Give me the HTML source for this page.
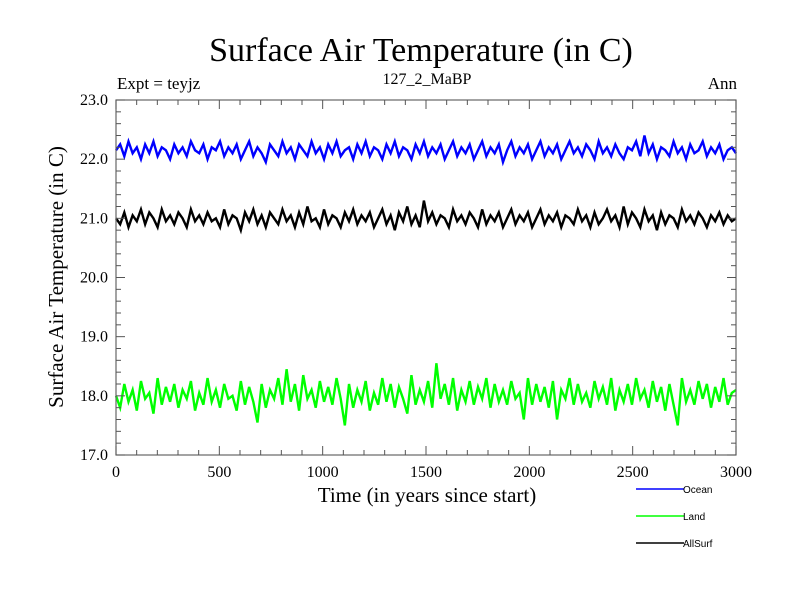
<!DOCTYPE html>
<html><head><meta charset="utf-8"><style>
html,body{margin:0;padding:0;background:#fff;}
svg{display:block;}
</style></head><body>
<svg id="chart" width="800" height="600" xmlns="http://www.w3.org/2000/svg" font-family="Liberation Serif, serif">
<text x="421" y="61" font-size="34" text-anchor="middle">Surface Air Temperature (in C)</text>
<text x="117" y="89" font-size="17">Expt = teyjz</text>
<text x="427" y="84" font-size="16" text-anchor="middle">127_2_MaBP</text>
<text x="737" y="89" font-size="17" text-anchor="end">Ann</text>
<text x="427" y="502" font-size="21" text-anchor="middle">Time (in years since start)</text>
<text transform="translate(63,277) rotate(-90)" font-size="21" text-anchor="middle">Surface Air Temperature (in C)</text>
<g id="series"></g>
<g id="axes"></g>
<g font-family="Liberation Sans, sans-serif" font-size="10">
<line x1="636" y1="489" x2="684" y2="489" stroke="#0000ff" stroke-width="1.5"/>
<text x="683" y="493">Ocean</text>
<line x1="636" y1="516" x2="684" y2="516" stroke="#00ff00" stroke-width="1.5"/>
<text x="683" y="520">Land</text>
<line x1="636" y1="543" x2="684" y2="543" stroke="#000" stroke-width="1.5"/>
<text x="683" y="547">AllSurf</text>
</g>
</svg>
<script>
const xTicks=[0,500,1000,1500,2000,2500,3000];
const yTicks=[17.0,18.0,19.0,20.0,21.0,22.0,23.0];
const land=[18.0,17.8,18.2,17.9,18.1,17.75,18.25,17.95,18.05,17.7,18.3,17.85,18.15,17.9,18.2,17.8,18.1,17.95,18.25,17.75,
18.05,17.85,18.3,17.9,18.1,17.8,18.2,17.95,18.0,17.75,18.25,17.85,18.15,17.9,17.55,18.2,17.8,18.1,17.95,18.3,
17.85,18.45,17.9,18.2,17.75,18.35,17.95,18.1,17.8,18.25,17.9,18.15,17.85,18.3,17.95,17.5,18.2,17.8,18.1,17.9,
18.25,17.75,18.05,17.85,18.3,17.9,18.2,17.8,18.15,17.95,17.7,18.35,17.85,18.1,17.9,18.25,17.8,18.55,17.95,18.2,
17.85,18.3,17.75,18.1,17.9,18.25,17.85,18.15,17.95,18.3,17.8,18.2,17.9,18.1,17.85,18.25,17.95,18.05,17.6,18.3,
17.85,18.2,17.9,18.15,17.8,18.25,17.6,18.1,17.95,18.3,17.85,18.2,17.9,18.05,17.8,18.25,17.95,18.15,17.85,18.3,
17.75,18.1,17.9,18.2,17.85,18.3,17.95,18.1,17.8,18.25,17.9,18.15,17.75,18.2,17.85,17.5,18.3,17.9,18.1,17.85,
18.25,17.95,18.2,17.8,18.15,17.9,18.3,17.85,18.05,18.1];
const ocean=[22.15,22.25,22.05,22.3,22.1,22.2,22.0,22.25,22.1,22.3,22.05,22.2,22.15,22.0,22.25,22.1,22.2,22.05,22.3,22.15,
22.1,22.25,22.0,22.2,22.15,22.3,22.05,22.2,22.1,22.25,22.0,22.15,22.3,22.05,22.2,22.1,21.95,22.25,22.15,22.05,
22.3,22.1,22.2,22.0,22.25,22.15,22.05,22.3,22.1,22.2,22.0,22.25,22.1,22.3,22.05,22.15,22.2,22.0,22.25,22.1,
22.3,22.05,22.2,22.15,22.0,22.25,22.1,22.3,22.05,22.2,22.15,22.0,22.25,22.1,22.3,22.05,22.2,22.1,22.25,22.0,
22.15,22.3,22.05,22.2,22.1,22.25,22.0,22.15,22.3,22.05,22.2,22.1,22.25,21.95,22.15,22.3,22.05,22.2,22.1,22.25,
22.0,22.15,22.3,22.05,22.2,22.1,22.25,22.0,22.15,22.3,22.1,22.2,22.05,22.25,22.15,22.0,22.3,22.1,22.2,22.05,
22.25,22.1,22.0,22.2,22.15,22.3,22.05,22.4,22.1,22.25,22.0,22.2,22.15,22.05,22.3,22.1,22.2,22.0,22.25,22.1,
22.15,22.3,22.05,22.2,22.1,22.25,22.0,22.15,22.2,22.1];
const allSurf=[21.0,20.9,21.1,20.85,21.05,20.95,21.15,20.9,21.1,21.0,20.85,21.15,20.95,21.05,20.9,21.1,21.0,20.85,21.15,20.95,
21.05,20.9,21.1,20.95,21.0,20.85,21.15,20.9,21.05,21.0,20.8,21.1,20.95,21.15,20.9,21.05,20.85,21.1,21.0,20.9,
21.15,20.95,21.05,20.85,21.1,20.9,21.2,20.95,21.0,20.85,21.15,20.9,21.05,21.0,20.85,21.1,20.95,21.15,20.9,21.05,
20.95,21.1,20.85,21.0,21.15,20.9,21.05,20.8,21.1,20.95,21.2,20.9,21.05,20.85,21.3,20.95,21.1,20.9,21.05,21.0,
20.85,21.15,20.95,21.05,20.9,21.1,21.0,20.85,21.15,20.9,21.05,20.95,21.1,20.85,21.0,21.15,20.9,21.05,20.95,21.1,
20.85,21.0,21.15,20.9,21.05,20.95,21.1,20.85,21.05,21.0,20.9,21.15,20.95,21.05,20.85,21.1,20.9,21.0,21.15,20.95,
21.05,20.85,21.2,20.9,21.1,21.0,20.85,21.15,20.95,21.05,20.8,21.1,20.9,21.05,21.0,20.85,21.15,20.95,21.05,20.9,
21.1,21.0,20.85,21.05,20.95,21.1,20.9,21.05,20.95,21.0];

const NS='http://www.w3.org/2000/svg';
const L=116,R=736,T=100,B=455;
const xMin=0,xMax=3000,yMin=17,yMax=23;
function xs(v){return L+(v-xMin)/(xMax-xMin)*(R-L);}
function ys(v){return B-(v-yMin)/(yMax-yMin)*(B-T);}
function mk(tag,attrs,parent){const e=document.createElementNS(NS,tag);for(const k in attrs)e.setAttribute(k,attrs[k]);parent.appendChild(e);return e;}

const sg=document.getElementById('series');
function drawSeries(arr,color,name){
  const n=arr.length;
  const pts=arr.map((v,i)=>xs(xMin+i*(xMax-xMin)/(n-1)).toFixed(2)+','+ys(v).toFixed(2)).join(' ');
  const p=mk('polyline',{points:pts,fill:'none',stroke:color,'stroke-width':'2.4','stroke-linejoin':'miter'},sg);
  
  
}
drawSeries(land,'#00ff00','land-series');
drawSeries(allSurf,'#000000','allsurf-series');
drawSeries(ocean,'#0000ff','ocean-series');

const ag=document.getElementById('axes');
const frame=mk('rect',{x:L,y:T,width:R-L,height:B-T,fill:'none',stroke:'#666','stroke-width':'1.2'},ag);


for(let v=xMin;v<=xMax;v+=100){
  const major=v%500===0;const len=major?9:5;const x=xs(v);
  mk('line',{x1:x,y1:B,x2:x,y2:B-len,stroke:'#555','stroke-width':'1'},ag);
  mk('line',{x1:x,y1:T,x2:x,y2:T+len,stroke:'#555','stroke-width':'1'},ag);
}
for(let k=0;k<=30;k++){
  const v=yMin+k*0.2;const major=k%5===0;const len=major?9:5;const y=ys(v);
  mk('line',{x1:L,y1:y,x2:L+len,y2:y,stroke:'#555','stroke-width':'1'},ag);
  mk('line',{x1:R,y1:y,x2:R-len,y2:y,stroke:'#555','stroke-width':'1'},ag);
}
xTicks.forEach(v=>{
  const t=mk('text',{x:xs(v),y:B+22,'font-size':'16','text-anchor':'middle'},ag);
  t.textContent=String(v);
  
  
});
yTicks.forEach(v=>{
  const t=mk('text',{x:L-8,y:ys(v)+5,'font-size':'16','text-anchor':'end'},ag);
  t.textContent=v.toFixed(1);
  
  
});
</script>
</body></html>
